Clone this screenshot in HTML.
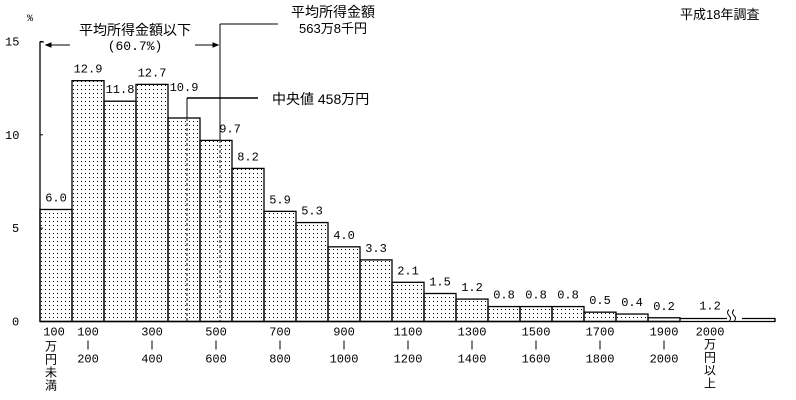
<!DOCTYPE html>
<html><head><meta charset="utf-8"><style>
body{margin:0;background:#fff;}
svg{display:block;font-family:"Liberation Mono","Noto Sans CJK JP",monospace;}
</style></head><body>
<svg id="chart" width="796" height="400" viewBox="0 0 796 400">
<defs><pattern id="dots" width="4" height="4" patternUnits="userSpaceOnUse"><rect x="1" y="1" width="1" height="1" fill="#000"/></pattern></defs>
<g id="bars"></g>
<g id="labels" font-size="12"></g>
<g id="xlabels" font-size="12"></g>
<text x="27" y="21" font-size="10">%</text>
<text x="680" y="19" font-size="13" font-family="Liberation Sans,Noto Sans CJK JP,sans-serif">平成18年調査</text>
<g stroke="#000" fill="none">
<line x1="40" y1="42" x2="44" y2="42"/>
<line x1="46" y1="45" x2="70" y2="45"/><path d="M46 45 l5 -2 v4 z" fill="#000"/>
<line x1="195" y1="45" x2="218" y2="45"/><path d="M218 45 l-5 -2 v4 z" fill="#000"/>
</g>
<text x="135" y="35" font-size="14" text-anchor="middle" font-family="Liberation Sans,Noto Sans CJK JP,sans-serif">平均所得金額以下</text>
<text x="135" y="50" font-size="13" text-anchor="middle">(60.7%)</text>
<g stroke="#000">
<line x1="220" y1="24" x2="278" y2="24"/>
<line x1="220" y1="24" x2="220" y2="140"/>
<line x1="220" y1="140" x2="220" y2="321" stroke-dasharray="3,2" stroke="#444" stroke-width="1.3"/>
</g>
<text x="333" y="17" font-size="14" text-anchor="middle" font-family="Liberation Sans,Noto Sans CJK JP,sans-serif">平均所得金額</text>
<text x="333" y="33" font-size="13" text-anchor="middle" font-family="Liberation Sans,Noto Sans CJK JP,sans-serif">563万8千円</text>
<g stroke="#000">
<line x1="187" y1="98" x2="258" y2="98" stroke-width="1.5"/>
<line x1="187" y1="98" x2="187" y2="118"/>
<line x1="187" y1="118" x2="187" y2="321" stroke-dasharray="3,2" stroke="#444" stroke-width="1.3"/>
</g>
<text x="272" y="104" font-size="14" font-family="Liberation Sans,Noto Sans CJK JP,sans-serif">中央値 458万円</text>
</svg>
<script>
const categories=["100未満","100-200","200-300","300-400","400-500","500-600","600-700","700-800","800-900","900-1000","1000-1100","1100-1200","1200-1300","1300-1400","1400-1500","1500-1600","1600-1700","1700-1800","1800-1900","1900-2000"];
const values=[6.0,12.9,11.8,12.7,10.9,9.7,8.2,5.9,5.3,4.0,3.3,2.1,1.5,1.2,0.8,0.8,0.8,0.5,0.4,0.2];
const overValue=1.2;
const yTicks=[0,5,10,15];
const xTop=["100","100","300","500","700","900","1100","1300","1500","1700","1900","2000"];
const xBottom=["","200","400","600","800","1000","1200","1400","1600","1800","2000",""];
const NS="http://www.w3.org/2000/svg";
const x0=40,bw=32,yZero=321.5,yUnit=18.67;
const X=i=>x0+i*bw, Y=v=>yZero-v*yUnit;
function mk(t,a,p){const e=document.createElementNS(NS,t);for(const k in a)e.setAttribute(k,a[k]);p.appendChild(e);return e;}
const bars=document.getElementById('bars'),lab=document.getElementById('labels'),xl=document.getElementById('xlabels'),svg=document.getElementById('chart');
values.forEach((v,i)=>{
 const r=mk('rect',{x:X(i),y:Y(v),width:bw,height:yZero-Y(v),fill:'url(#dots)',stroke:'#000','stroke-width':1.3},bars);
 
 
 let lx=X(i)+bw/2, ly=Y(v)-8;
 if(i===4){ly=Y(v)-27;}
 if(i===5){lx=X(i)+bw/2+14;}
 const t=mk('text',{x:lx,y:ly,'text-anchor':'middle'},lab);t.textContent=v.toFixed(1);
 
 
});
const ob=mk('path',{d:`M${X(20)} ${yZero-3}H727M742 ${yZero-3}H775V${yZero}H${X(20)}`,fill:'none',stroke:'#000','stroke-width':1.3},bars);


const br=mk('path',{d:`M729 ${yZero-12}q-3 3 0 6q3 3 0 6M734 ${yZero-12}q-3 3 0 6q3 3 0 6`,fill:'none',stroke:'#000'},bars);


const ot=mk('text',{x:X(20)+30,y:yZero-12,'text-anchor':'middle'},lab);ot.textContent=overValue.toFixed(1);


const ya=mk('line',{x1:x0,y1:Y(15),x2:x0,y2:yZero,stroke:'#000','stroke-width':1.3},svg);


const xa=mk('line',{x1:x0,y1:yZero,x2:X(20),y2:yZero,stroke:'#000','stroke-width':1.5},svg);


yTicks.forEach(t=>{
 mk('line',{x1:x0,y1:Y(t),x2:x0+3,y2:Y(t),stroke:'#000'},svg);
 const e=mk('text',{x:t>=10?5:12,y:Y(t)+4,'font-size':12},svg);e.textContent=t;
 
 
});
xTop.forEach((s,k)=>{
 let cx=k===0?X(0)+14:X(2*k-1)+bw/2;
 if(k===11)cx=X(20)+30;
 const a=mk('text',{x:cx,y:yZero+14,'text-anchor':'middle'},xl);a.textContent=s;
 
 
 if(xBottom[k]){mk('line',{x1:cx,y1:yZero+19,x2:cx,y2:yZero+28,stroke:'#000'},xl);
  const b=mk('text',{x:cx,y:yZero+41,'text-anchor':'middle'},xl);b.textContent=xBottom[k];
  
  }
});
[["万","円","未","満",X(0)+11,29],["万","円","以","上",X(20)+30,27]].forEach(a=>{
 a.slice(0,4).forEach((c,j)=>{const t=mk('text',{x:a[4],y:yZero+a[5]+j*13,'text-anchor':'middle','font-size':12},xl);t.textContent=c;
 
 });
});
</script>
</body></html>
